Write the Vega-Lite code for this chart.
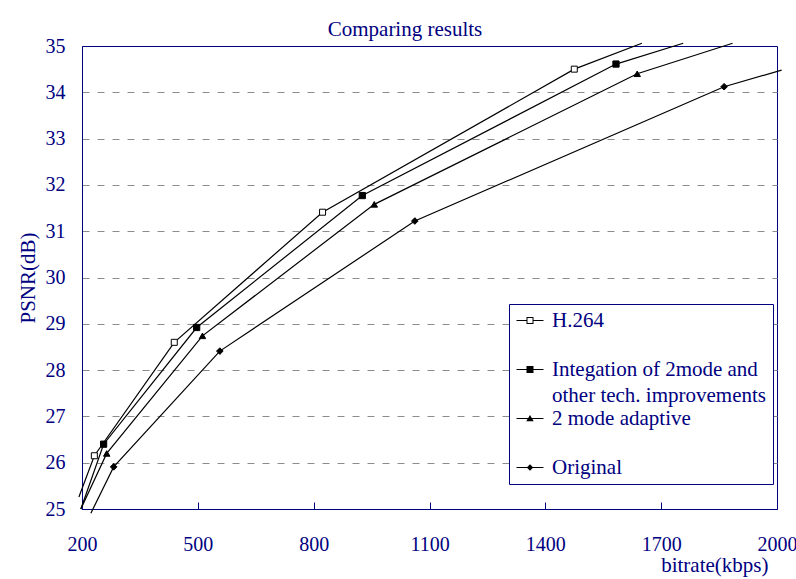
{
  "$schema": "https://vega.github.io/schema/vega-lite/v6.json",
  "width": 695,
  "height": 463,
  "autosize": {"type": "none"},
  "padding": {"left": 82, "top": 46, "right": 19, "bottom": 70},
  "background": "white",
  "title": {
    "text": "Comparing results",
    "anchor": "middle",
    "frame": "group",
    "dx": -24.5,
    "dy": 4,
    "offset": 0,
    "font": "Liberation Serif",
    "fontSize": 21,
    "fontWeight": "normal",
    "color": "#000080"
  },
  "datasets": {
    "psnr": [
      {"series": "H.264", "bitrate": 192, "psnr": 25.26, "measured": false},
      {"series": "H.264", "bitrate": 232, "psnr": 26.15, "measured": true},
      {"series": "H.264", "bitrate": 439, "psnr": 28.6, "measured": true},
      {"series": "H.264", "bitrate": 823, "psnr": 31.41, "measured": true},
      {"series": "H.264", "bitrate": 1475, "psnr": 34.5, "measured": true},
      {"series": "H.264", "bitrate": 1650, "psnr": 35.06, "measured": false},
      {"series": "Integation of 2mode and other tech. improvements", "bitrate": 197, "psnr": 25.0, "measured": false},
      {"series": "Integation of 2mode and other tech. improvements", "bitrate": 256, "psnr": 26.4, "measured": true},
      {"series": "Integation of 2mode and other tech. improvements", "bitrate": 497, "psnr": 28.92, "measured": true},
      {"series": "Integation of 2mode and other tech. improvements", "bitrate": 926, "psnr": 31.77, "measured": true},
      {"series": "Integation of 2mode and other tech. improvements", "bitrate": 1583, "psnr": 34.61, "measured": true},
      {"series": "Integation of 2mode and other tech. improvements", "bitrate": 1757, "psnr": 35.06, "measured": false},
      {"series": "2 mode adaptive", "bitrate": 197, "psnr": 25.0, "measured": false},
      {"series": "2 mode adaptive", "bitrate": 264, "psnr": 26.2, "measured": true},
      {"series": "2 mode adaptive", "bitrate": 512, "psnr": 28.74, "measured": true},
      {"series": "2 mode adaptive", "bitrate": 957, "psnr": 31.58, "measured": true},
      {"series": "2 mode adaptive", "bitrate": 1638, "psnr": 34.4, "measured": true},
      {"series": "2 mode adaptive", "bitrate": 1885, "psnr": 35.06, "measured": false},
      {"series": "Original", "bitrate": 223, "psnr": 24.91, "measured": false},
      {"series": "Original", "bitrate": 282, "psnr": 25.91, "measured": true},
      {"series": "Original", "bitrate": 557, "psnr": 28.41, "measured": true},
      {"series": "Original", "bitrate": 1062, "psnr": 31.22, "measured": true},
      {"series": "Original", "bitrate": 1863, "psnr": 34.12, "measured": true},
      {"series": "Original", "bitrate": 2012, "psnr": 34.48, "measured": false}
    ]
  },
  "data": {"name": "psnr"},
  "encoding": {
    "x": {
      "field": "bitrate",
      "type": "quantitative",
      "scale": {"domain": [200, 2000], "nice": false, "zero": false},
      "axis": {
        "values": [200, 500, 800, 1100, 1400, 1700, 2000],
        "format": "d",
        "grid": false,
        "tickSize": -7,
        "labelPadding": 32,
        "labelFlush": false,
        "labelOverlap": false,
        "title": "bitrate(kbps)",
        "titleAnchor": "end",
        "titleAlign": "right",
        "titleX": 686,
        "titleY": 56,
        "titleBaseline": "middle"
      }
    },
    "y": {
      "field": "psnr",
      "type": "quantitative",
      "scale": {"domain": [25, 35], "nice": false, "zero": false},
      "axis": {
        "values": [25, 26, 27, 28, 29, 30, 31, 32, 33, 34, 35],
        "grid": true,
        "gridDash": [7, 8],
        "gridColor": "#8c8c8c",
        "gridOpacity": {"condition": {"test": "datum.value == 25 || datum.value == 35", "value": 0}, "value": 1},
        "ticks": false,
        "labelPadding": 17,
        "labelFlush": false,
        "labelOverlap": false,
        "title": "PSNR(dB)",
        "titleX": -54,
        "titleBaseline": "middle"
      }
    }
  },
  "layer": [
    {
      "mark": {"type": "line", "color": "black", "strokeWidth": 1.2},
      "encoding": {"detail": {"field": "series"}}
    },
    {
      "transform": [{"filter": "datum.measured"}],
      "mark": {"type": "point", "filled": true, "stroke": "black", "strokeWidth": 1, "opacity": 1},
      "encoding": {
        "shape": {
          "field": "series",
          "type": "nominal",
          "scale": {
            "domain": ["H.264", "Integation of 2mode and other tech. improvements", "2 mode adaptive", "Original"],
            "range": ["square", "square", "triangle-up", "diamond"]
          },
          "legend": null
        },
        "fill": {
          "field": "series",
          "type": "nominal",
          "scale": {
            "domain": ["H.264", "Integation of 2mode and other tech. improvements", "2 mode adaptive", "Original"],
            "range": ["white", "black", "black", "black"]
          },
          "legend": null
        },
        "size": {
          "field": "series",
          "type": "nominal",
          "scale": {
            "domain": ["H.264", "Integation of 2mode and other tech. improvements", "2 mode adaptive", "Original"],
            "range": [36, 44, 64, 50]
          },
          "legend": null
        }
      }
    },
    {
      "transform": [{"filter": "datum.measured"}],
      "mark": {"type": "point", "filled": true, "color": "black", "opacity": 0},
      "encoding": {
        "shape": {
          "field": "series",
          "type": "nominal",
          "scale": {
            "domain": ["H.264", "Integation of 2mode and other tech. improvements", "2 mode adaptive", "Original"],
            "range": [
              "M-1,-0.06H0.111V0.06H-1Z M0.889,-0.06H2V0.06H0.889Z M0.111,-0.39H0.889V0.39H0.111Z M0.222,-0.278V0.278H0.778V-0.278Z",
              "M-1,-0.06H2V0.06H-1Z M0.111,-0.39H0.889V0.39H0.111Z",
              "M-1,-0.06H2V0.06H-1Z M0.5,-0.4L0.917,0.3H0.083Z",
              "M-1,-0.06H2V0.06H-1Z M0.5,-0.36L0.857,0L0.5,0.36L0.143,0Z"
            ]
          },
          "legend": {
            "title": null,
            "orient": "none",
            "legendX": 427,
            "legendY": 258,
            "fillColor": "white",
            "strokeColor": "#000080",
            "padding": 6,
            "labelFont": "Liberation Serif",
            "labelFontSize": 21,
            "labelColor": "#000080",
            "labelLimit": 400,
            "labelOffset": 16,
            "labelBaseline": "middle",
            "symbolSize": 324,
            "symbolStrokeWidth": 0,
            "symbolFillColor": "black",
            "symbolOpacity": 1,
            "rowPadding": 0,
            "labelExpr": "datum.label == 'Integation of 2mode and other tech. improvements' ? ['Integation of 2mode and', 'other tech. improvements'] : (datum.label == 'Original' ? datum.label : [datum.label, ''])"
          }
        }
      }
    }
  ],
  "resolve": {"scale": {"shape": "independent"}},
  "config": {
    "view": {"stroke": "#000080", "strokeWidth": 1},
    "axis": {
      "labelFont": "Liberation Serif",
      "labelFontSize": 20,
      "labelColor": "#000080",
      "titleFont": "Liberation Serif",
      "titleFontSize": 21,
      "titleFontWeight": "normal",
      "titleColor": "#000080",
      "domainColor": "#000080",
      "tickColor": "#000080"
    },
    "style": {"guide-label": {"lineHeight": 26.7}}
  }
}
